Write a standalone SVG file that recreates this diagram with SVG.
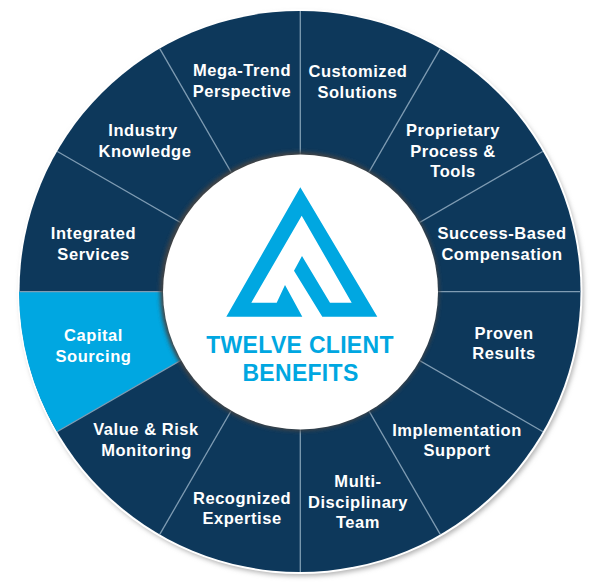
<svg xmlns="http://www.w3.org/2000/svg" width="600" height="583" viewBox="0 0 600 583">
<defs>
<filter id="sh" x="-10%" y="-10%" width="120%" height="120%"><feGaussianBlur stdDeviation="2"/></filter>
<filter id="osh" x="-5%" y="-5%" width="110%" height="110%"><feGaussianBlur stdDeviation="2.5"/></filter>
<clipPath id="wc"><circle cx="300" cy="291.500" r="280.500"/></clipPath>
</defs>
<style>
.l{font-family:"Liberation Sans",Arial,sans-serif;font-weight:700;font-size:16.5px;fill:#fff;text-anchor:middle;letter-spacing:.55px}
.c{font-family:"Liberation Sans",Arial,sans-serif;font-weight:700;font-size:23px;fill:#00a7e1;text-anchor:middle;letter-spacing:.3px}
.s{stroke:#7f9cb3;stroke-width:1.3}
</style>
<rect width="600" height="583" fill="#fff"/>
<circle cx="302" cy="294.500" r="281.500" fill="#b0b0b0" filter="url(#osh)"/>
<circle cx="300" cy="291.500" r="282.500" fill="#fff"/>
<circle id="wheel" cx="300" cy="291.500" r="280.500" fill="#0d385b"/>
<path id="highlight" d="M19 291.500H300L57 431.750A280.500 280.500 0 0 1 19 291.500Z" fill="#00a7e1"/>
<g id="connectors" clip-path="url(#wc)">
<line class="s" x1="300.300" y1="11" x2="300.300" y2="572"/>
<line class="s" x1="19" y1="291.700" x2="581" y2="291.700"/>
<line class="s" x1="159.750" y1="48.600" x2="440.250" y2="534.400"/>
<line class="s" x1="440.250" y1="48.600" x2="159.750" y2="534.400"/>
<line class="s" x1="57" y1="151.250" x2="543" y2="431.750"/>
<line class="s" x1="543" y1="151.250" x2="57" y2="431.750"/>
</g>
<circle cx="299.500" cy="291.500" r="139.500" fill="#444" filter="url(#sh)"/>
<g id="center">
<circle cx="300.500" cy="292" r="137.500" fill="#fff"/>
<path d="M300.300 187.300L377.300 316.700H322.300L294 270.700L302 256L330 302.700H351.700L301.700 215.700L251.300 302.700H276.700L285 285L302.300 316.700H226.300Z" fill="#00a7e1"/>
<text class="c" x="300" y="353">TWELVE CLIENT</text>
<text class="c" x="300.500" y="381">BENEFITS</text>
</g>
<g id="n1"><text class="l" x="358" y="77">Customized</text><text class="l" x="357.500" y="97.500">Solutions</text></g>
<g id="n2"><text class="l" x="453" y="136">Proprietary</text><text class="l" x="453" y="156.500">Process &amp;</text><text class="l" x="453" y="177">Tools</text></g>
<g id="n3"><text class="l" x="502" y="239">Success-Based</text><text class="l" x="502" y="259.500">Compensation</text></g>
<g id="n4"><text class="l" x="504" y="339">Proven</text><text class="l" x="504" y="359">Results</text></g>
<g id="n5"><text class="l" x="457" y="436">Implementation</text><text class="l" x="457" y="456">Support</text></g>
<g id="n6"><text class="l" x="358" y="487">Multi-</text><text class="l" x="358" y="507.500">Disciplinary</text><text class="l" x="358" y="528">Team</text></g>
<g id="n7"><text class="l" x="242" y="503.500">Recognized</text><text class="l" x="242" y="524">Expertise</text></g>
<g id="n8"><text class="l" x="146" y="435">Value &amp; Risk</text><text class="l" x="146.500" y="456">Monitoring</text></g>
<g id="n9"><text class="l" x="93.500" y="341">Capital</text><text class="l" x="93.500" y="361.500">Sourcing</text></g>
<g id="n10"><text class="l" x="93.500" y="239">Integrated</text><text class="l" x="93.500" y="259.500">Services</text></g>
<g id="n11"><text class="l" x="143" y="136">Industry</text><text class="l" x="145" y="157">Knowledge</text></g>
<g id="n12"><text class="l" x="242" y="76">Mega-Trend</text><text class="l" x="242" y="97">Perspective</text></g>
</svg>
